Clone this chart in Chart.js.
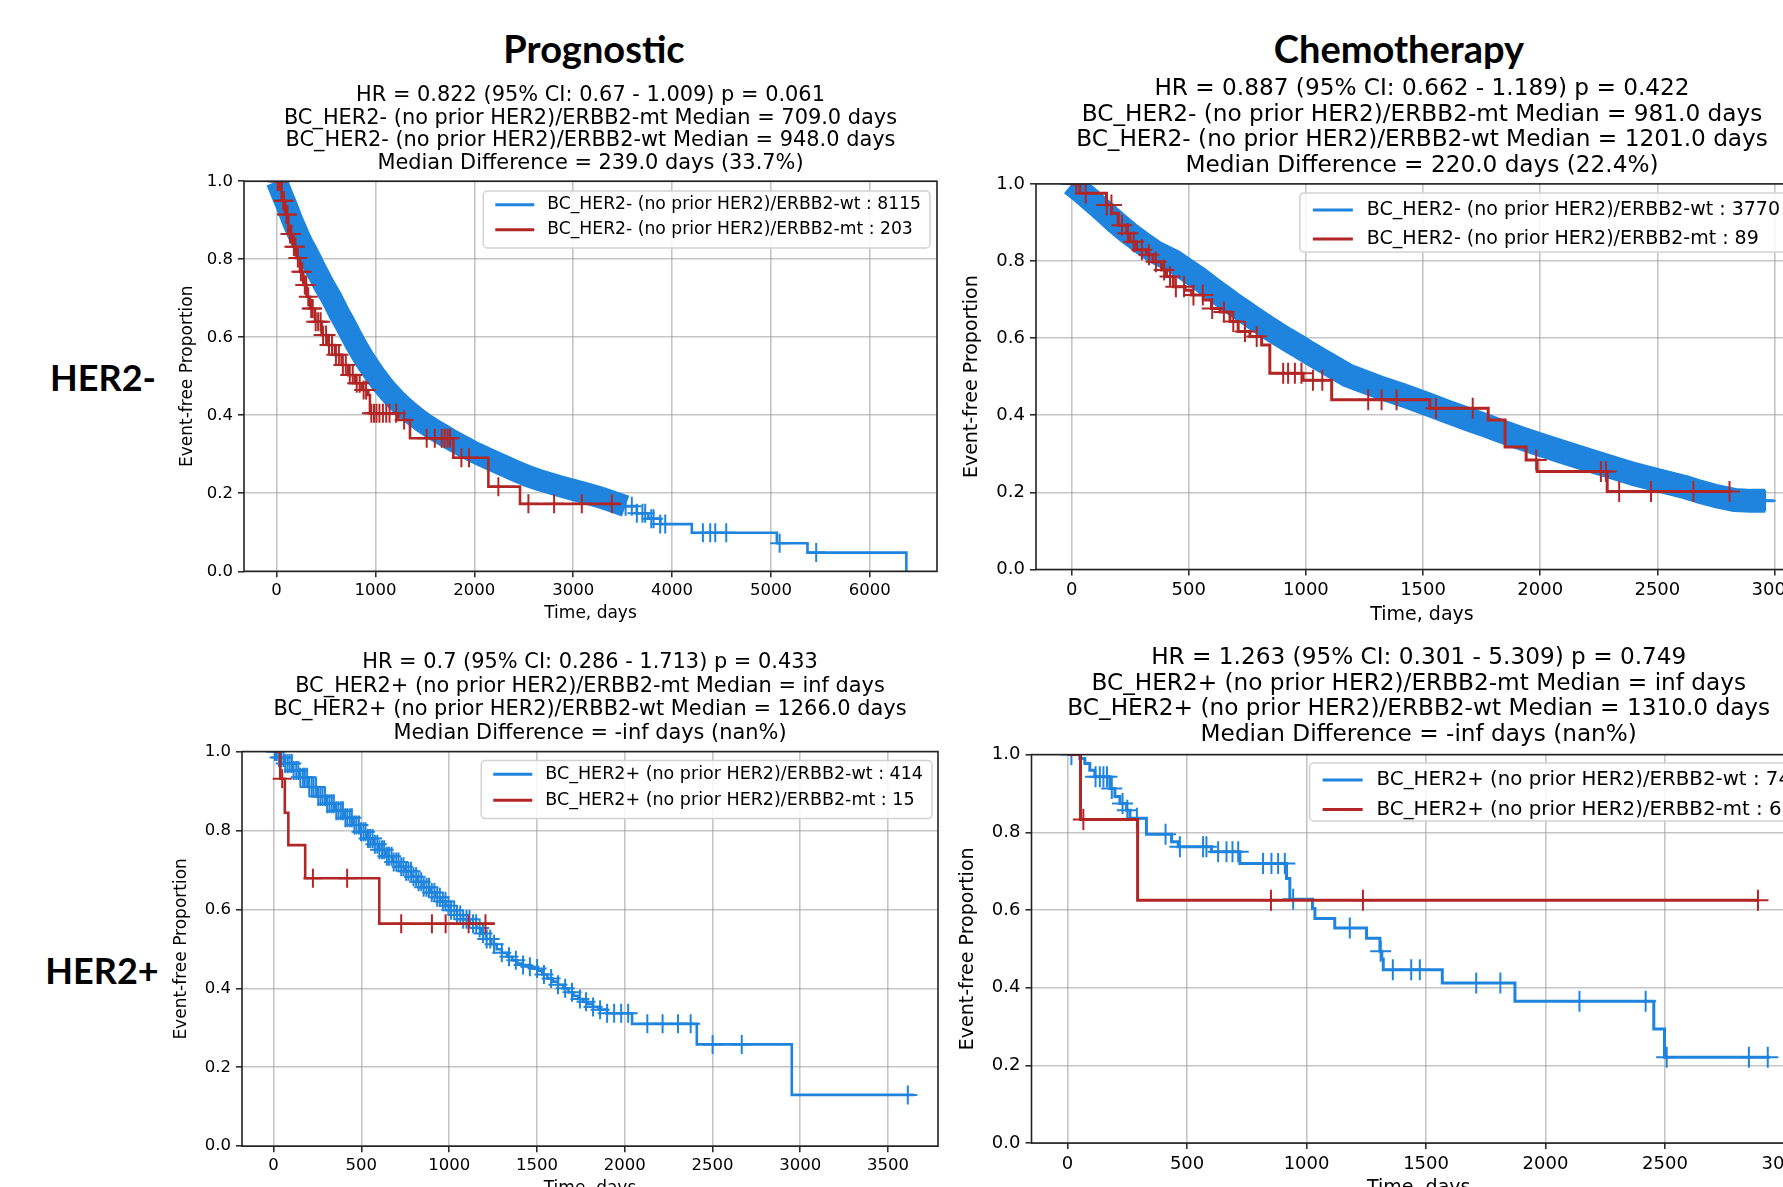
<!DOCTYPE html>
<html>
<head>
<meta charset="utf-8">
<script src="https://cdn.jsdelivr.net/npm/chart.js@4.4.1/dist/chart.umd.min.js"></script>
<style>
  html, body { margin: 0; padding: 0; background: #fff; }
  body { width: 1783px; height: 1187px; overflow: hidden; position: relative; }
  .hdr { position: absolute; font-family: Lato, "Open Sans", sans-serif; font-weight: bold; color: #000;
         transform: translate(-50%, -50%); white-space: nowrap; line-height: 1; }
  canvas { position: absolute; }
</style>
</head>
<body>
<div class="hdr" style="left:594px;top:48px;font-size:38px">Prognostic</div>
<div class="hdr" style="left:1399px;top:48px;font-size:38px">Chemotherapy</div>
<div class="hdr" style="left:103px;top:377px;font-size:36px">HER2-</div>
<div class="hdr" style="left:102px;top:970px;font-size:36px">HER2+</div>

<canvas id="c1" width="800" height="600" style="left:150px;top:60px"></canvas>
<canvas id="c2" width="870" height="600" style="left:955px;top:60px"></canvas>
<canvas id="c3" width="800" height="600" style="left:150px;top:630px"></canvas>
<canvas id="c4" width="870" height="600" style="left:955px;top:630px"></canvas>

<script>
// ---- data ----
const yTicks = [0, 0.2, 0.4, 0.6, 0.8, 1.0];
const p1XTicks = [0, 1000, 2000, 3000, 4000, 5000, 6000];
const p2XTicks = [0, 500, 1000, 1500, 2000, 2500, 3000];
const p3XTicks = [0, 500, 1000, 1500, 2000, 2500, 3000, 3500];
const p4XTicks = [0, 500, 1000, 1500, 2000, 2500, 3000];

// Prognostic, HER2-
const p1BandT = [0,30,60,95,125,158,195,230,270,310,347,390,430,470,515,557,600,640,685,720,752,795,835,875,915,955,1010,1070,1130,1195,1260,1332,1410,1490,1580,1680,1780,1890,2000,2130,2260,2400,2530,2680,2840,3000,3140,3280,3407,3530];
const p1BandS = [1.0,.982,.963,.942,.922,.90,.878,.858,.836,.818,.80,.777,.758,.738,.718,.70,.678,.658,.638,.621,.605,.585,.567,.55,.534,.519,.499,.479,.461,.443,.427,.411,.395,.38,.365,.35,.335,.32,.305,.29,.275,.259,.245,.232,.22,.209,.199,.189,.178,.167];
const p1WtT = [3530,3644,3760,3880,4200,5060,5370,6370];
const p1WtS = [.167,.149,.135,.121,.099,.072,.048,0];
const p1WtC = [3593,3644,3700,3728,3790,3813,3880,3931,4312,4386,4437,4548,5088,5458];
const p1MtT = [0,50,85,118,168,202,236,270,303,337,388,455,523,590,658,725,793,860,927,944,1230,1349,1788,2142,2462,3475];
const p1MtS = [1,.95,.915,.865,.832,.803,.768,.734,.704,.674,.64,.606,.58,.555,.529,.503,.482,.465,.452,.405,.388,.341,.291,.217,.173,.173];
const p1MtC = [10,25,40,65,75,100,110,135,150,175,190,215,245,260,285,300,320,350,365,395,420,445,470,500,530,560,600,630,670,700,740,770,810,840,880,905,958,985,1010,1040,1075,1109,1142,1209,1290,1518,1600,1670,1700,1730,1755,1869,1946,2243,2547,2807,3087,3391];

// Chemotherapy, HER2-
const p2BandT = [0,40,85,135,190,245,300,360,434,490,545,590,633,680,730,778,825,870,915,960,1000,1060,1120,1180,1250,1320,1400,1500,1600,1700,1770,1828,1910,2003,2090,2184,2290,2397,2500,2610,2680,2753,2830,2900,2960];
const p2BandS = [1.0,.98,.957,.93,.90,.872,.847,.822,.80,.777,.754,.733,.714,.693,.672,.652,.633,.615,.598,.582,.567,.545,.524,.503,.487,.471,.455,.433,.41,.388,.373,.36,.342,.323,.306,.288,.268,.248,.232,.215,.202,.19,.18,.178,.178];
const p2WtT = [2960,2997];
const p2WtS = [.178,.178];
const p2WtC = [2875,2915,2945];
const p2MtT = [0,35,149,171,199,235,249,277,320,348,384,405,434,484,512,562,597,633,676,711,761,811,846,988,1110,1529,1778,1850,1940,1987,2286,2817];
const p2MtS = [1,.976,.945,.924,.893,.872,.85,.829,.816,.798,.777,.76,.733,.724,.712,.699,.677,.668,.643,.617,.604,.582,.509,.491,.44,.418,.388,.318,.284,.254,.202,.202];
const p2MtC = [20,60,150,170,215,240,265,300,330,360,395,420,445,480,520,560,600,650,690,740,790,903,924,953,981,1030,1070,1266,1323,1387,1555,1712,1983,2259,2281,2337,2473,2654,2808];

// Prognostic, HER2+
const p3WtT = [0,30,60,105,150,200,253,300,350,405,457,495,530,565,602,640,680,715,748,785,820,855,893,920,950,980,1009,1045,1080,1118,1155,1183,1210,1240,1271,1300,1330,1360,1387,1420,1450,1477,1504,1530,1560,1590,1620,1650,1680,1708,1736,1763,1790,1820,1853,1900,2042,2411,2952,3647];
const p3WtS = [1,.985,.97,.952,.935,.91,.886,.868,.85,.832,.814,.797,.78,.765,.751,.735,.72,.708,.697,.683,.67,.656,.643,.631,.62,.609,.598,.586,.575,.564,.553,.539,.525,.512,.499,.49,.48,.471,.463,.459,.455,.45,.445,.435,.425,.417,.409,.40,.39,.381,.373,.366,.36,.353,.346,.337,.31,.258,.13,.13];
const p3WtC = [8,18,31,42,56,66,79,91,104,114,129,141,152,167,178,191,203,217,228,242,254,267,279,293,305,318,331,343,357,369,383,395,409,420,434,446,460,472,486,498,512,524,538,550,564,577,591,603,618,630,645,657,672,684,699,712,727,740,755,768,783,797,812,826,841,855,871,885,901,916,932,947,964,979,996,1011,1029,1045,1063,1080,1099,1116,1136,1154,1174,1193,1214,1234,1256,1300,1341,1380,1421,1460,1501,1540,1581,1620,1661,1700,1745,1780,1820,1860,1900,1940,1980,2020,2129,2216,2304,2376,2501,2667,3613];
const p3MtT = [0,38,64,84,180,602,1259];
const p3MtS = [1,.931,.845,.763,.679,.564,.564];
const p3MtC = [49,224,419,727,902,980,1111,1207];

// Chemotherapy, HER2+
const p4WtT = [0,51,72,93,114,177,198,219,247,261,330,435,463,602,721,916,930,1025,1035,1118,1251,1307,1315,1321,1568,1872,2453,2498,2940];
const p4WtS = [1,.99,.977,.96,.943,.913,.892,.874,.857,.836,.795,.776,.763,.75,.72,.681,.628,.604,.578,.554,.527,.494,.474,.446,.412,.365,.294,.221,.221];
const p4WtC = [16,117,135,150,165,185,230,250,290,410,470,567,581,630,665,690,714,818,853,881,909,944,1181,1310,1361,1438,1474,1710,1811,2142,2419,2507,2851,2930];
const p4MtT = [0,54,293,2889];
const p4MtS = [1,.833,.625,.625];
const p4MtC = [66,851,1236,2889];

const BLUE = '#1f84de';
const RED = '#b32626';
const GRID = 'rgba(150,150,150,0.55)';

Chart.defaults.font.family = '"DejaVu Sans", sans-serif';
Chart.defaults.color = '#000';

function pts(T, S) { return T.map((t, i) => ({ x: t, y: S[i] })); }
function kmAt(T, S, t) { let v = S[0]; for (let i = 0; i < T.length && T[i] <= t; i++) v = S[i]; return v; }
function marks(T, S, C) { return C.map(t => ({ x: t, y: kmAt(T, S, t) })); }

// legend drawn inside the axes (upper right) + the four spines
const innerLegend = {
  id: 'innerLegend',
  afterDatasetsDraw(chart, args, o) {
    const { ctx, chartArea: a } = chart;
    ctx.save();
    ctx.font = o.size + 'px "DejaVu Sans"';
    const tw = Math.max(...o.items.map(it => ctx.measureText(it.text).width));
    const w = o.padL + o.hLen + o.tGap + tw + o.padR;
    const right = a.right - o.right, left = right - w, top = a.top + o.top;
    ctx.beginPath();
    if (ctx.roundRect) ctx.roundRect(left, top, w, o.h, 4); else ctx.rect(left, top, w, o.h);
    ctx.fillStyle = 'rgba(255,255,255,0.85)';
    ctx.fill();
    ctx.strokeStyle = '#d2d2d2';
    ctx.lineWidth = 1.5;
    ctx.stroke();
    o.items.forEach((it, i) => {
      const y = top + o.row1 + i * o.gap;
      ctx.strokeStyle = it.color;
      ctx.lineWidth = 3;
      ctx.beginPath();
      ctx.moveTo(left + o.padL, y);
      ctx.lineTo(left + o.padL + o.hLen, y);
      ctx.stroke();
      ctx.fillStyle = '#000';
      ctx.textBaseline = 'middle';
      ctx.textAlign = 'left';
      ctx.fillText(it.text, left + o.padL + o.hLen + o.tGap, y);
    });
    ctx.strokeStyle = '#222';
    ctx.lineWidth = 1.6;
    ctx.strokeRect(a.left, a.top, a.right - a.left, a.bottom - a.top);
    ctx.restore();
  }
};

function panel(id, p) {
  const ds = [
    { data: marks(p.mtT, p.mtS, p.mtC), showLine: false, pointStyle: 'cross', pointRadius: p.cr,
      pointBorderWidth: 2, pointBorderColor: RED, order: 0 },
    { data: pts(p.mtT, p.mtS), stepped: true, borderColor: RED, borderWidth: p.lw, pointRadius: 0, order: 1 },
    { data: marks(p.wtT, p.wtS, p.wtC), showLine: false, pointStyle: 'cross', pointRadius: p.cr,
      pointBorderWidth: 2, pointBorderColor: BLUE, order: 2 },
    { data: pts(p.wtT, p.wtS), stepped: true, borderColor: BLUE, borderWidth: p.lw, pointRadius: 0, order: 3 }
  ];
  if (p.bandT) {
    // dense censoring marks form a solid band
    ds.push({ data: pts(p.bandT, p.bandS), showLine: false, pointStyle: 'cross', pointRadius: p.cr,
              pointBorderWidth: 2, pointBorderColor: BLUE, order: 4 });
    ds.push({ data: pts(p.bandT, p.bandS), borderColor: BLUE, borderWidth: p.bandW, pointRadius: 0,
              borderJoinStyle: 'round', order: 5 });
  }
  ds.forEach(d => { d.clip = 0; d.fill = false; });

  new Chart(document.getElementById(id), {
    type: 'line',
    data: { datasets: ds },
    options: {
      responsive: false,
      animation: false,
      events: [],
      layout: { padding: { left: 0, right: p.padR, top: p.padT, bottom: 0 }, autoPadding: false },
      plugins: {
        legend: { display: false },
        tooltip: { enabled: false },
        title: {
          display: true, text: p.title, fullSize: false, color: '#000',
          font: { size: p.tSize, lineHeight: p.tLH, weight: 'normal' },
          padding: { top: 0, bottom: p.tPadB }
        },
        innerLegend: p.leg
      },
      scales: {
        x: {
          type: 'linear', min: p.xmin, max: p.xmax,
          afterBuildTicks: s => { s.ticks = p.xTicks.map(v => ({ value: v })); },
          afterFit: s => { s.height = p.xH; },
          border: { display: false },
          grid: { color: GRID, lineWidth: 1.6, drawTicks: true, tickLength: 6, tickColor: '#222', tickWidth: 1.5 },
          ticks: { color: '#000', font: { size: p.kSize }, padding: 4, maxRotation: 0, autoSkip: false,
                   callback: v => String(v) },
          title: { display: true, text: 'Time, days', color: '#000', font: { size: p.aSize },
                   padding: { top: 0, bottom: p.xTPad } }
        },
        y: {
          type: 'linear', min: 0, max: 1,
          afterBuildTicks: s => { s.ticks = yTicks.map(v => ({ value: v })); },
          afterFit: s => { s.width = p.yW; },
          border: { display: false },
          grid: { color: GRID, lineWidth: 1.6, drawTicks: true, tickLength: 6, tickColor: '#222', tickWidth: 1.5 },
          ticks: { color: '#000', font: { size: p.kSize }, padding: 5, callback: v => v.toFixed(1) },
          title: { display: true, text: 'Event-free Proportion', color: '#000', font: { size: p.aSize },
                   padding: { top: p.yTPad, bottom: 0 } }
        }
      }
    },
    plugins: [innerLegend]
  });
}

const legL = { size: 17.2, top: 9.7, row1: 13.7, gap: 25, h: 57, padL: 12, hLen: 39, tGap: 13, padR: 9, right: 7 };
const legR = { size: 19, top: 9, row1: 17, gap: 29, h: 59, padL: 13, hLen: 40, tGap: 14, padR: 10, right: 18 };

panel('c1', {
  title: ['HR = 0.822 (95% CI: 0.67 - 1.009) p = 0.061',
          'BC_HER2- (no prior HER2)/ERBB2-mt Median = 709.0 days',
          'BC_HER2- (no prior HER2)/ERBB2-wt Median = 948.0 days',
          'Median Difference = 239.0 days (33.7%)'],
  tSize: 20.9, tLH: 1.086, tPadB: 6.35, padT: 24.15, padR: 13,
  xmin: -330, xmax: 6680, xTicks: p1XTicks, xH: 88.7, yW: 94, xTPad: 35.8, yTPad: 27.4,
  kSize: 16.5, aSize: 17, cr: 9.5, lw: 2.6, bandW: 22,
  bandT: p1BandT, bandS: p1BandS, wtT: p1WtT, wtS: p1WtS, wtC: p1WtC,
  mtT: p1MtT, mtS: p1MtS, mtC: p1MtC,
  leg: Object.assign({}, legL, { items: [
    { text: 'BC_HER2- (no prior HER2)/ERBB2-wt : 8115', color: BLUE },
    { text: 'BC_HER2- (no prior HER2)/ERBB2-mt : 203', color: RED }] })
});

panel('c2', {
  title: ['HR = 0.887 (95% CI: 0.662 - 1.189) p = 0.422',
          'BC_HER2- (no prior HER2)/ERBB2-mt Median = 981.0 days',
          'BC_HER2- (no prior HER2)/ERBB2-wt Median = 1201.0 days',
          'Median Difference = 220.0 days (22.4%)'],
  tSize: 23.2, tLH: 1.112, tPadB: 4.9, padT: 15.8, padR: 17,
  xmin: -152, xmax: 3143, xTicks: p2XTicks, xH: 90.5, yW: 81, xTPad: 33.6, yTPad: 5.6,
  kSize: 18, aSize: 19, cr: 10.5, lw: 3, bandW: 24,
  bandT: p2BandT, bandS: p2BandS, wtT: p2WtT, wtS: p2WtS, wtC: p2WtC,
  mtT: p2MtT, mtS: p2MtS, mtC: p2MtC,
  leg: Object.assign({}, legR, { items: [
    { text: 'BC_HER2- (no prior HER2)/ERBB2-wt : 3770', color: BLUE },
    { text: 'BC_HER2- (no prior HER2)/ERBB2-mt : 89', color: RED }] })
});

panel('c3', {
  title: ['HR = 0.7 (95% CI: 0.286 - 1.713) p = 0.433',
          'BC_HER2+ (no prior HER2)/ERBB2-mt Median = inf days',
          'BC_HER2+ (no prior HER2)/ERBB2-wt Median = 1266.0 days',
          'Median Difference = -inf days (nan%)'],
  tSize: 20.9, tLH: 1.124, tPadB: 6.45, padT: 21.15, padR: 12,
  xmin: -180, xmax: 3785, xTicks: p3XTicks, xH: 83.8, yW: 92, xTPad: 30.9, yTPad: 21.8,
  kSize: 16.5, aSize: 17, cr: 9.5, lw: 2.6,
  wtT: p3WtT, wtS: p3WtS, wtC: p3WtC, mtT: p3MtT, mtS: p3MtS, mtC: p3MtC,
  leg: Object.assign({}, legL, { size: 17.5, top: 9, row1: 13.6, gap: 26.2, h: 58, right: 6, items: [
    { text: 'BC_HER2+ (no prior HER2)/ERBB2-wt : 414', color: BLUE },
    { text: 'BC_HER2+ (no prior HER2)/ERBB2-mt : 15', color: RED }] })
});

panel('c4', {
  title: ['HR = 1.263 (95% CI: 0.301 - 5.309) p = 0.749',
          'BC_HER2+ (no prior HER2)/ERBB2-mt Median = inf days',
          'BC_HER2+ (no prior HER2)/ERBB2-wt Median = 1310.0 days',
          'Median Difference = -inf days (nan%)'],
  tSize: 23.2, tLH: 1.095, tPadB: 7.4, padT: 15.6, padR: 19,
  xmin: -151, xmax: 3090, xTicks: p4XTicks, xH: 86.9, yW: 76.5, xTPad: 30.6, yTPad: 1.2,
  kSize: 18, aSize: 19, cr: 10.5, lw: 3,
  wtT: p4WtT, wtS: p4WtS, wtC: p4WtC, mtT: p4MtT, mtS: p4MtS, mtC: p4MtC,
  leg: Object.assign({}, legR, { size: 19.8, top: 8.4, gap: 29.6, h: 58, right: 5, items: [
    { text: 'BC_HER2+ (no prior HER2)/ERBB2-wt : 74', color: BLUE },
    { text: 'BC_HER2+ (no prior HER2)/ERBB2-mt : 6', color: RED }] })
});
</script>
</body>
</html>
